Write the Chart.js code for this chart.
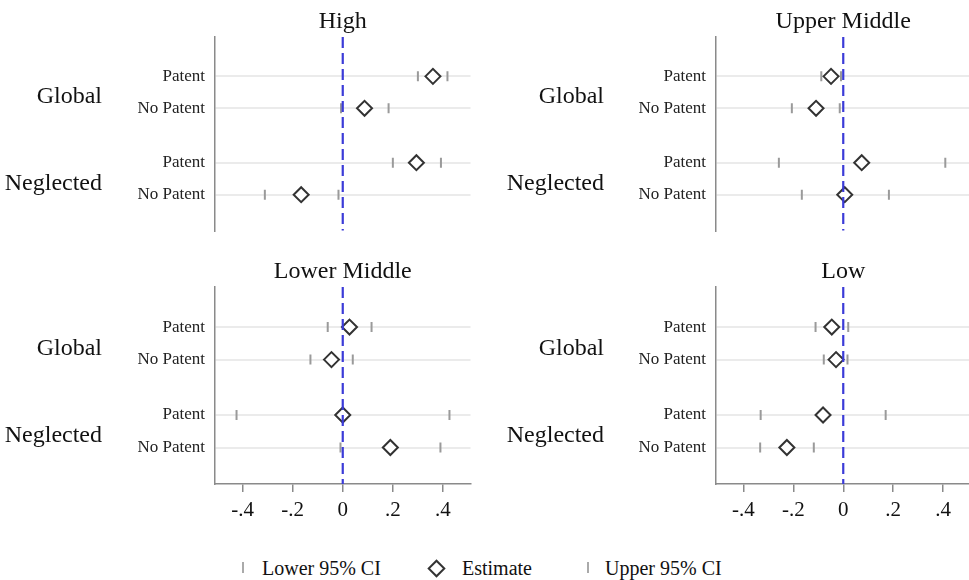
<!DOCTYPE html>
<html>
<head>
<meta charset="utf-8">
<script src="https://cdn.jsdelivr.net/npm/chart.js@4.4.0/dist/chart.umd.min.js"></script>
<style>
    body {
        margin: 0;
        width: 969px;
        height: 580px;
        overflow: hidden;
        background: #fff;
        position: relative;
        font-family: "Liberation Serif", "Times New Roman", serif;
    }
    canvas { position: absolute; }
    .lg-text { position: absolute; top: 558px; font-size: 20px; line-height: 20px; color: #111; }
    .lg-tick { position: absolute; top: 562px; width: 2px; height: 11px; background: #aaa; }
    .lg-diamond { position: absolute; left: 430px; top: 562px; width: 9px; height: 9px; border: 2px solid #333; transform: rotate(45deg); }
</style>
</head>
<body>
<canvas id="c-high" width="480" height="240" style="left:0;top:0"></canvas>
<canvas id="c-upper" width="500" height="240" style="left:480px;top:0"></canvas>
<canvas id="c-lower" width="480" height="280" style="left:0;top:250px"></canvas>
<canvas id="c-low" width="500" height="280" style="left:480px;top:250px"></canvas>

<div class="lg-tick" style="left:242px"></div>
<div class="lg-text" style="left:262px">Lower 95% CI</div>
<div class="lg-diamond"></div>
<div class="lg-text" style="left:462px">Estimate</div>
<div class="lg-tick" style="left:587px"></div>
<div class="lg-text" style="left:605px">Upper 95% CI</div>

<script>
// rows, top to bottom
const rowPos = [1, 2, 3.7, 4.7];
const rowLabels = ['Patent', 'No Patent', 'Patent', 'No Patent'];
const groupPos = [1.65, 4.35];
const groupLabels = ['Global', 'Neglected'];
const xTicks = [-0.4, -0.2, 0, 0.2, 0.4];
const xTickLabels = ['-.4', '-.2', '0', '.2', '.4'];
const refValue = 0;

// High
const highLower = [0.30, -0.007, 0.20, -0.311];
const highEst   = [0.36, 0.087, 0.294, -0.166];
const highUpper = [0.418, 0.183, 0.392, -0.017];

// Upper Middle
const upperLower = [-0.088, -0.206, -0.258, -0.166];
const upperEst   = [-0.049, -0.109, 0.074, 0.006];
const upperUpper = [-0.009, -0.014, 0.409, 0.183];

// Lower Middle
const lowerLower = [-0.06, -0.129, -0.424, -0.009];
const lowerEst   = [0.027, -0.045, 0.0, 0.19];
const lowerUpper = [0.115, 0.04, 0.426, 0.39];

// Low
const lowLower = [-0.111, -0.078, -0.331, -0.333];
const lowEst   = [-0.046, -0.029, -0.081, -0.226];
const lowUpper = [0.02, 0.017, 0.17, -0.118];

const FONT = '"Liberation Serif", "Times New Roman", serif';

/* dashed reference line at zero */
const zeroLine = {
    id: 'zeroLine',
    afterDatasetsDraw(chart) {
        const ctx = chart.ctx;
        const area = chart.chartArea;
        const px = chart.scales.x.getPixelForValue(refValue);
        ctx.save();
        ctx.strokeStyle = '#3b3bd8';
        ctx.lineWidth = 2.2;
        ctx.setLineDash([11, 5]);
        ctx.beginPath();
        ctx.moveTo(px, area.top);
        ctx.lineTo(px, area.bottom);
        ctx.stroke();
        ctx.restore();
    }
};

/* panel title, centred over the plot area */
const panelTitle = {
    id: 'panelTitle',
    afterDraw(chart, args, opts) {
        const ctx = chart.ctx;
        const area = chart.chartArea;
        ctx.save();
        ctx.fillStyle = '#111';
        ctx.font = '24px ' + FONT;
        ctx.textAlign = 'center';
        ctx.textBaseline = 'alphabetic';
        ctx.fillText(opts.text, (area.left + area.right) / 2, 28);
        ctx.restore();
    }
};

const toPoints = function(vals) {
    return vals.map((v, i) => ({ x: v, y: rowPos[i] }));
};

const makePanel = function(id, title, lower, est, upper, bottom, right) {
    const ciStyle = {
        pointStyle: 'line',
        rotation: 90,
        pointRadius: 5,
        pointBorderWidth: 2,
        pointBorderColor: '#9a9a9a',
        showLine: false
    };

    return new Chart(document.getElementById(id), {
        type: 'scatter',
        data: {
            datasets: [
                {
                    label: 'Estimate',
                    data: toPoints(est),
                    pointStyle: 'rectRot',
                    pointRadius: 7.5,
                    pointBorderWidth: 2,
                    pointBorderColor: '#333',
                    pointBackgroundColor: '#fff',
                    showLine: false
                },
                Object.assign({ label: 'Lower 95% CI', data: toPoints(lower) }, ciStyle),
                Object.assign({ label: 'Upper 95% CI', data: toPoints(upper) }, ciStyle)
            ]
        },
        options: {
            responsive: false,
            animation: false,
            devicePixelRatio: 1,
            layout: {
                padding: { top: 37, left: 0, bottom: bottom ? 0 : 7, right: right ? 3 : 4 }
            },
            plugins: {
                legend: { display: false },
                tooltip: { enabled: false },
                title: { display: false },
                panelTitle: { text: title }
            },
            scales: {
                x: {
                    type: 'linear',
                    min: -0.51,
                    max: 0.51,
                    display: bottom,
                    afterBuildTicks: (s) => { s.ticks = xTicks.map((v) => ({ value: v })); },
                    afterFit: (s) => {
                        if (bottom) {
                            s.height = 46;
                        }
                        s.paddingLeft = 0;
                        s.paddingRight = 0;
                    },
                    grid: { drawOnChartArea: false, drawTicks: true, tickLength: 8, color: '#8a8a8a', lineWidth: 1.5 },
                    border: { color: '#8a8a8a', width: 1.5 },
                    ticks: {
                        padding: 6,
                        color: '#111',
                        autoSkip: false,
                        maxRotation: 0,
                        font: { family: FONT, size: 21 },
                        callback: (v, i) => xTickLabels[i]
                    }
                },
                y: {
                    type: 'linear',
                    position: 'left',
                    weight: 0,
                    reverse: true,
                    min: -0.23,
                    max: 5.82,
                    afterBuildTicks: (s) => { s.ticks = rowPos.map((v) => ({ value: v })); },
                    afterFit: (s) => { s.width = right ? 94 : 95; s.paddingTop = 0; s.paddingBottom = 0; },
                    grid: { color: '#ebebeb', lineWidth: 2, drawTicks: false },
                    border: { color: '#8a8a8a', width: 1.5 },
                    ticks: {
                        padding: 10,
                        color: '#222',
                        autoSkip: false,
                        font: { family: FONT, size: 17 },
                        callback: (v, i) => rowLabels[i]
                    }
                },
                yg: {
                    type: 'linear',
                    position: 'left',
                    weight: 1,
                    reverse: true,
                    min: -0.23,
                    max: 5.82,
                    afterBuildTicks: (s) => { s.ticks = groupPos.map((v) => ({ value: v })); },
                    afterFit: (s) => { s.width = right ? 142 : 120; s.paddingTop = 0; s.paddingBottom = 0; },
                    grid: { display: false },
                    border: { display: false },
                    ticks: {
                        padding: 10,
                        color: '#111',
                        autoSkip: false,
                        font: { family: FONT, size: 24 },
                        callback: (v, i) => groupLabels[i]
                    }
                }
            }
        },
        plugins: [zeroLine, panelTitle]
    });
};

makePanel('c-high', 'High', highLower, highEst, highUpper, false, false);
makePanel('c-upper', 'Upper Middle', upperLower, upperEst, upperUpper, false, true);
makePanel('c-lower', 'Lower Middle', lowerLower, lowerEst, lowerUpper, true, false);
makePanel('c-low', 'Low', lowLower, lowEst, lowUpper, true, true);
</script>
</body>
</html>
